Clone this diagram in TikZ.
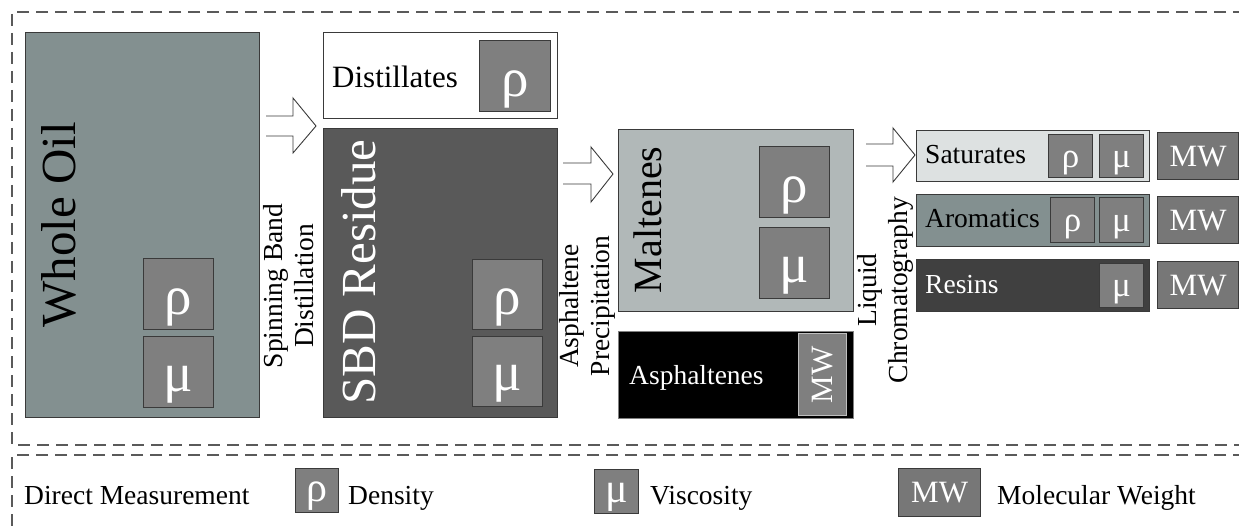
\documentclass[tikz,border=0pt]{standalone}
\usepackage{fontspec}
\setmainfont{Liberation Serif}
\definecolor{oilc}{HTML}{839090}
\definecolor{sbdc}{HTML}{595959}
\definecolor{malc}{HTML}{B1B8B8}
\definecolor{satc}{HTML}{DDE1E1}
\definecolor{resc}{HTML}{404040}
\definecolor{symc}{HTML}{7F7F7F}
\definecolor{mwc}{HTML}{777777}
\definecolor{edgec}{HTML}{3A3A3A}
\definecolor{dashc}{HTML}{5A5A5A}
\newcommand\fsz[2]{\fontsize{#1}{#2}\selectfont}
\tikzset{
  box/.style={draw=edgec, line width=1.2pt, anchor=north west, inner sep=0pt},
  symbox/.style={draw=edgec, fill=symc, line width=1.2pt, anchor=north west, inner sep=0pt, text=white},
  mwbox/.style={draw=edgec, fill=mwc, line width=1.2pt, anchor=north west, inner sep=0pt, text=white, font=\fsz{31}{31}},
  bigsym/.style={font=\fsz{55}{55}, anchor=base, inner sep=0pt, text=white},
  smallsym/.style={font=\fsz{35}{35}, anchor=base, inner sep=0pt, text=white},
  legsym/.style={font=\fsz{42}{42}, anchor=base, inner sep=0pt, text=white},
  lbl/.style={anchor=base west, inner sep=0pt, font=\fsz{27.5}{31}},
  vlbl/.style={rotate=90, align=center, inner sep=0pt, font=\fsz{27.5}{31}},
  blockarrow/.style={draw=edgec, line width=0.9pt, fill=white},
  dashline/.style={draw=dashc, line width=1.3pt, dash pattern=on 12pt off 7pt},
}
\begin{document}
\begin{tikzpicture}[x=1pt,y=-1pt]
\useasboundingbox (0,0) rectangle (1239,529);
% dashed frames
\draw[dashline] (1245,12) -- (12,12) -- (12,445) -- (1245,445);
\draw[dashline] (1245,455) -- (12,455) -- (12,535);

% Whole oil
\node[box, fill=oilc, minimum width=234pt, minimum height=385pt] (whole) at (25,32) {};
\node[rotate=90, anchor=base, inner sep=0pt, font=\fsz{49}{49}] (wholet) at (75,225) {Whole Oil};
\node[symbox, minimum width=70pt, minimum height=71pt] (wrho) at (143,258) {};
\node[bigsym] (wrhot) at ([yshift=16pt]wrho.south) {ρ};
\node[symbox, minimum width=70pt, minimum height=71pt] (wmu) at (143,336) {};
\node[bigsym] (wmut) at ([yshift=17pt]wmu.south) {μ};

% arrow 1
\draw[blockarrow] (266,116) -- (293,116) -- (293,98) -- (316,126) -- (293,153) -- (293,136) -- (266,136);
\node[vlbl] (sbdl) at (289,286) {Spinning Band\\Distillation};

% Distillates
\node[box, fill=white, minimum width=234pt, minimum height=86pt] (dist) at (323,32) {};
\node[anchor=base west, inner sep=0pt, font=\fsz{31}{31}] (distt) at (332,88) {Distillates};
\node[symbox, minimum width=71pt, minimum height=71pt] (drho) at (479,40) {};
\node[bigsym] (drhot) at ([yshift=16pt]drho.south) {ρ};

% SBD residue
\node[box, fill=sbdc, minimum width=234pt, minimum height=289pt] (sbd) at (323,128) {};
\node[rotate=90, anchor=base, inner sep=0pt, text=white, font=\fsz{49}{49}] (sbdt) at (375,272) {SBD Residue};
\node[symbox, minimum width=70pt, minimum height=70pt] (srho) at (472,259) {};
\node[bigsym] (srhot) at ([yshift=16pt]srho.south) {ρ};
\node[symbox, minimum width=70pt, minimum height=70pt] (smu) at (472,336) {};
\node[bigsym] (smut) at ([yshift=17pt]smu.south) {μ};

% arrow 2
\draw[blockarrow] (563,163) -- (591,163) -- (591,147) -- (613,174) -- (591,202) -- (591,184) -- (563,184);
\node[vlbl] (apl) at (587,306) {Asphaltene\\Precipitation};

% Maltenes
\node[box, fill=malc, minimum width=235pt, minimum height=182pt] (mal) at (618,129) {};
\node[rotate=90, anchor=base, inner sep=0pt, font=\fsz{40}{40}] (malt) at (661,220) {Maltenes};
\node[symbox, minimum width=70pt, minimum height=71pt] (mrho) at (759,146) {};
\node[bigsym] (mrhot) at ([yshift=16pt]mrho.south) {ρ};
\node[symbox, minimum width=70pt, minimum height=71pt] (mmu) at (759,227) {};
\node[bigsym] (mmut) at ([yshift=17pt]mmu.south) {μ};

% Asphaltenes
\node[box, fill=black, draw=gray, minimum width=235pt, minimum height=87pt] (asp) at (618,331) {};
\node[lbl, text=white] (aspt) at (629,384) {Asphaltenes};
\node[mwbox, draw=black!25, fill=symc, minimum width=48pt, minimum height=82pt] (amw) at (798,333) {};
\node[rotate=90, text=white, font=\fsz{31}{31}] (amwt) at (amw.center) {MW};

% arrow 3
\draw[blockarrow] (866,144) -- (893,144) -- (893,128) -- (915,155) -- (893,182) -- (893,166) -- (866,166);
\node[vlbl] (lcl) at (885,290) {Liquid\\Chromatography};

% Saturates
\node[box, fill=satc, minimum width=233pt, minimum height=51pt] (sat) at (916,130) {};
\node[lbl] (satt) at (925,164) {Saturates};
\node[symbox, minimum width=44pt, minimum height=43pt] (satrho) at (1048,134) {};
\node[smallsym] (satrhot) at ([yshift=11pt]satrho.south) {ρ};
\node[symbox, minimum width=44pt, minimum height=43pt] (satmu) at (1099,134) {};
\node[smallsym] (satmut) at ([yshift=11pt]satmu.south) {μ};
\node[mwbox, minimum width=81pt, minimum height=47pt] (satmw) at (1157,132) {MW};

% Aromatics
\node[box, fill=oilc, minimum width=233pt, minimum height=52pt] (aro) at (916,194) {};
\node[lbl] (arot) at (925,228) {Aromatics};
\node[symbox, minimum width=44pt, minimum height=45pt] (arorho) at (1050,197) {};
\node[smallsym] (arorhot) at ([yshift=12pt]arorho.south) {ρ};
\node[symbox, minimum width=44pt, minimum height=45pt] (aromu) at (1099,197) {};
\node[smallsym] (aromut) at ([yshift=12pt]aromu.south) {μ};
\node[mwbox, minimum width=81pt, minimum height=47pt] (aromw) at (1157,196) {MW};

% Resins
\node[box, fill=resc, minimum width=233pt, minimum height=52pt] (res) at (916,259) {};
\node[lbl, text=white] (rest) at (925,294) {Resins};
\node[symbox, minimum width=44pt, minimum height=44pt] (resmu) at (1099,263) {};
\node[smallsym] (resmut) at ([yshift=12pt]resmu.south) {μ};
\node[mwbox, minimum width=81pt, minimum height=47pt] (resmw) at (1157,261) {MW};

% Legend
\node[lbl] (legdm) at (24,504) {Direct Measurement};
\node[symbox, minimum width=43pt, minimum height=44pt] (lrho) at (295,468) {};
\node[legsym] (lrhot) at ([yshift=12pt]lrho.south) {ρ};
\node[lbl] (legd) at (348,504) {Density};
\node[symbox, minimum width=44pt, minimum height=44pt] (lmu) at (594,469) {};
\node[legsym] (lmut) at ([yshift=12pt]lmu.south) {μ};
\node[lbl] (legv) at (650,504) {Viscosity};
\node[mwbox, minimum width=82pt, minimum height=48pt] (lmw) at (898,468) {MW};
\node[lbl] (legm) at (997,504) {Molecular Weight};
\end{tikzpicture}
\end{document}
